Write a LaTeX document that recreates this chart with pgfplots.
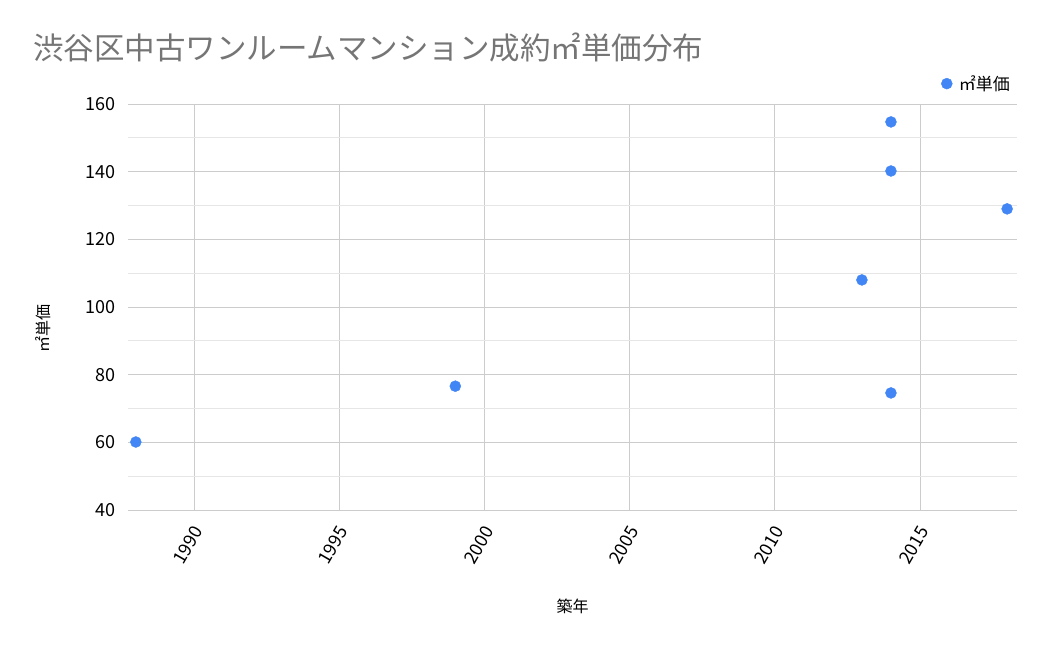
\documentclass[border=0pt]{standalone}
\usepackage{fontspec}
\setmainfont{Noto Sans CJK JP}
\usepackage{pgfplots}
\pgfplotsset{compat=1.18}
\definecolor{gblue}{HTML}{4285F4}
\definecolor{majgrid}{HTML}{CCCCCC}
\definecolor{mingrid}{HTML}{E6E6E6}
\definecolor{titlegray}{HTML}{757575}
\begin{document}
\begin{tikzpicture}[x=1pt,y=1pt]
\path[use as bounding box] (0,0) rectangle (1050,649);
\begin{axis}[
    at={(128pt,139pt)}, anchor=south west,
    scale only axis, width=889pt, height=406pt,
    xmin=1987.73, xmax=2018.34, ymin=40, ymax=160,
    xtick={1990,1995,...,2015}, ytick={40,60,...,160},
    minor y tick num=1,
    grid=both,
    major grid style={majgrid, line width=0.8pt},
    minor grid style={mingrid, line width=0.8pt},
    axis line style={draw=none},
    tick style={draw=none},
    major tick length=0pt, minor tick length=0pt,
    /pgf/number format/assume math mode=true,
    /pgf/number format/1000 sep={},
    yticklabel style={font=\fontsize{18}{20}\selectfont, black, xshift=-9pt},
    xticklabel style={font=\fontsize{18}{20}\selectfont, black, xshift=6pt, yshift=-15pt, rotate=60, anchor=east},
    xlabel={築年}, ylabel={㎡単価},
    label style={font=\fontsize{16}{18}\selectfont},
    xlabel style={at={(rel axis cs:0.5,0)}, anchor=center, yshift=-96pt},
    ylabel style={at={(axis description cs:-0.095,0.446)}, anchor=center},
    legend style={draw=none, fill=none, at={(1,1)}, anchor=south east,
        xshift=-2pt, yshift=8pt, font=\fontsize{17}{19}\selectfont,
        legend cell align=left},
    legend image code/.code={\path[draw=none] (-10pt,0) -- (10pt,0); \fill[gblue] (0pt,0) circle (5.5pt);},
]
\addplot[only marks, mark=*, mark size=5.5pt, gblue, mark options={draw=gblue, fill=gblue}]
    coordinates {(1988,60.1) (1999,76.6) (2013,108.0) (2014,154.7) (2014,140.2) (2014,74.6) (2018,129.0)};
\addlegendentry{㎡単価}
\end{axis}
\node[anchor=base west, text=titlegray, font=\fontsize{30.5}{34}\selectfont, inner sep=0pt] at (33,649-60) {渋谷区中古ワンルームマンション成約㎡単価分布};
\end{tikzpicture}
\end{document}
